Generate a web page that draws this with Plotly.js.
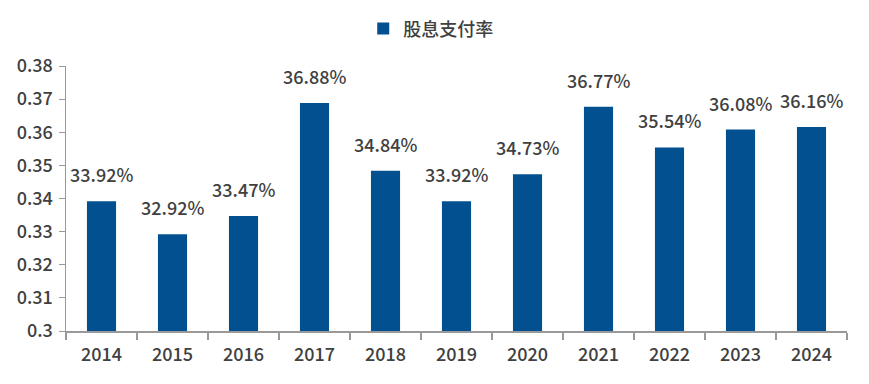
<!DOCTYPE html>
<html><head><meta charset="utf-8">
<script src="https://cdn.plot.ly/plotly-3.0.1.min.js"></script>
<style>body{margin:0;background:#fff}#c{width:869px;height:384px}</style>
</head><body><div id="c"></div>
<script>
const years = ['2014','2015','2016','2017','2018','2019','2020','2021','2022','2023','2024'];
const payoutRatio = [0.3392,0.3292,0.3347,0.3688,0.3484,0.3392,0.3473,0.3677,0.3554,0.3608,0.3616];
const seriesName = '股息支付率';
const yTicks = [0.3,0.31,0.32,0.33,0.34,0.35,0.36,0.37,0.38];
const yTickText = ['0.3','0.31','0.32','0.33','0.34','0.35','0.36','0.37','0.38'];

const font = '"Noto Sans CJK SC", "Noto Sans", sans-serif';
const txtColor = '#404040';
const trace = {
  type:'bar', x: years, y: payoutRatio, name: seriesName,
  marker:{color:'#02508f'}, showlegend:true, hoverinfo:'none'
};
const annotations = years.map((yr,i)=>({
  x: i, y: payoutRatio[i], xref:'x', yref:'y',
  text: (payoutRatio[i]*100).toFixed(2)+'%',
  showarrow:false, yanchor:'bottom', yshift:12,
  font:{family:font,size:18,color:txtColor,weight:500}
}));
const layout = {
  width:869, height:384,
  margin:{l:66,r:22,t:66,b:53, autoexpand:false},
  paper_bgcolor:'#fff', plot_bgcolor:'#fff',
  bargap:0.59,
  showlegend:true,
  legend:{orientation:'h', x:0.467, xanchor:'center', yref:'container', y:0.925, yanchor:'middle',
    font:{family:font,size:18,color:txtColor,weight:500}, itemsizing:'constant', itemwidth:30},
  xaxis:{type:'category', range:[-0.5, years.length-0.5], showline:true, linecolor:'#999', linewidth:2,
    ticks:'outside', tickson:'boundaries', ticklen:7, tickcolor:'#999', tickwidth:1.5,
    tickfont:{family:font,size:18,color:txtColor,weight:500}, showgrid:false, tickangle:0,
    ticklabelstandoff:6, automargin:false},
  yaxis:{range:[0.3,0.38], tickvals:yTicks, ticktext:yTickText, showline:true, linecolor:'#999', linewidth:1.5,
    ticks:'outside', ticklen:6, tickcolor:'#999', showgrid:false, zeroline:false, automargin:false,
    tickfont:{family:font,size:18,color:txtColor,weight:500}, ticklabelstandoff:2},
  annotations: annotations
};
Plotly.newPlot('c',[trace],layout,{displayModeBar:false,staticPlot:true});
</script></body></html>
